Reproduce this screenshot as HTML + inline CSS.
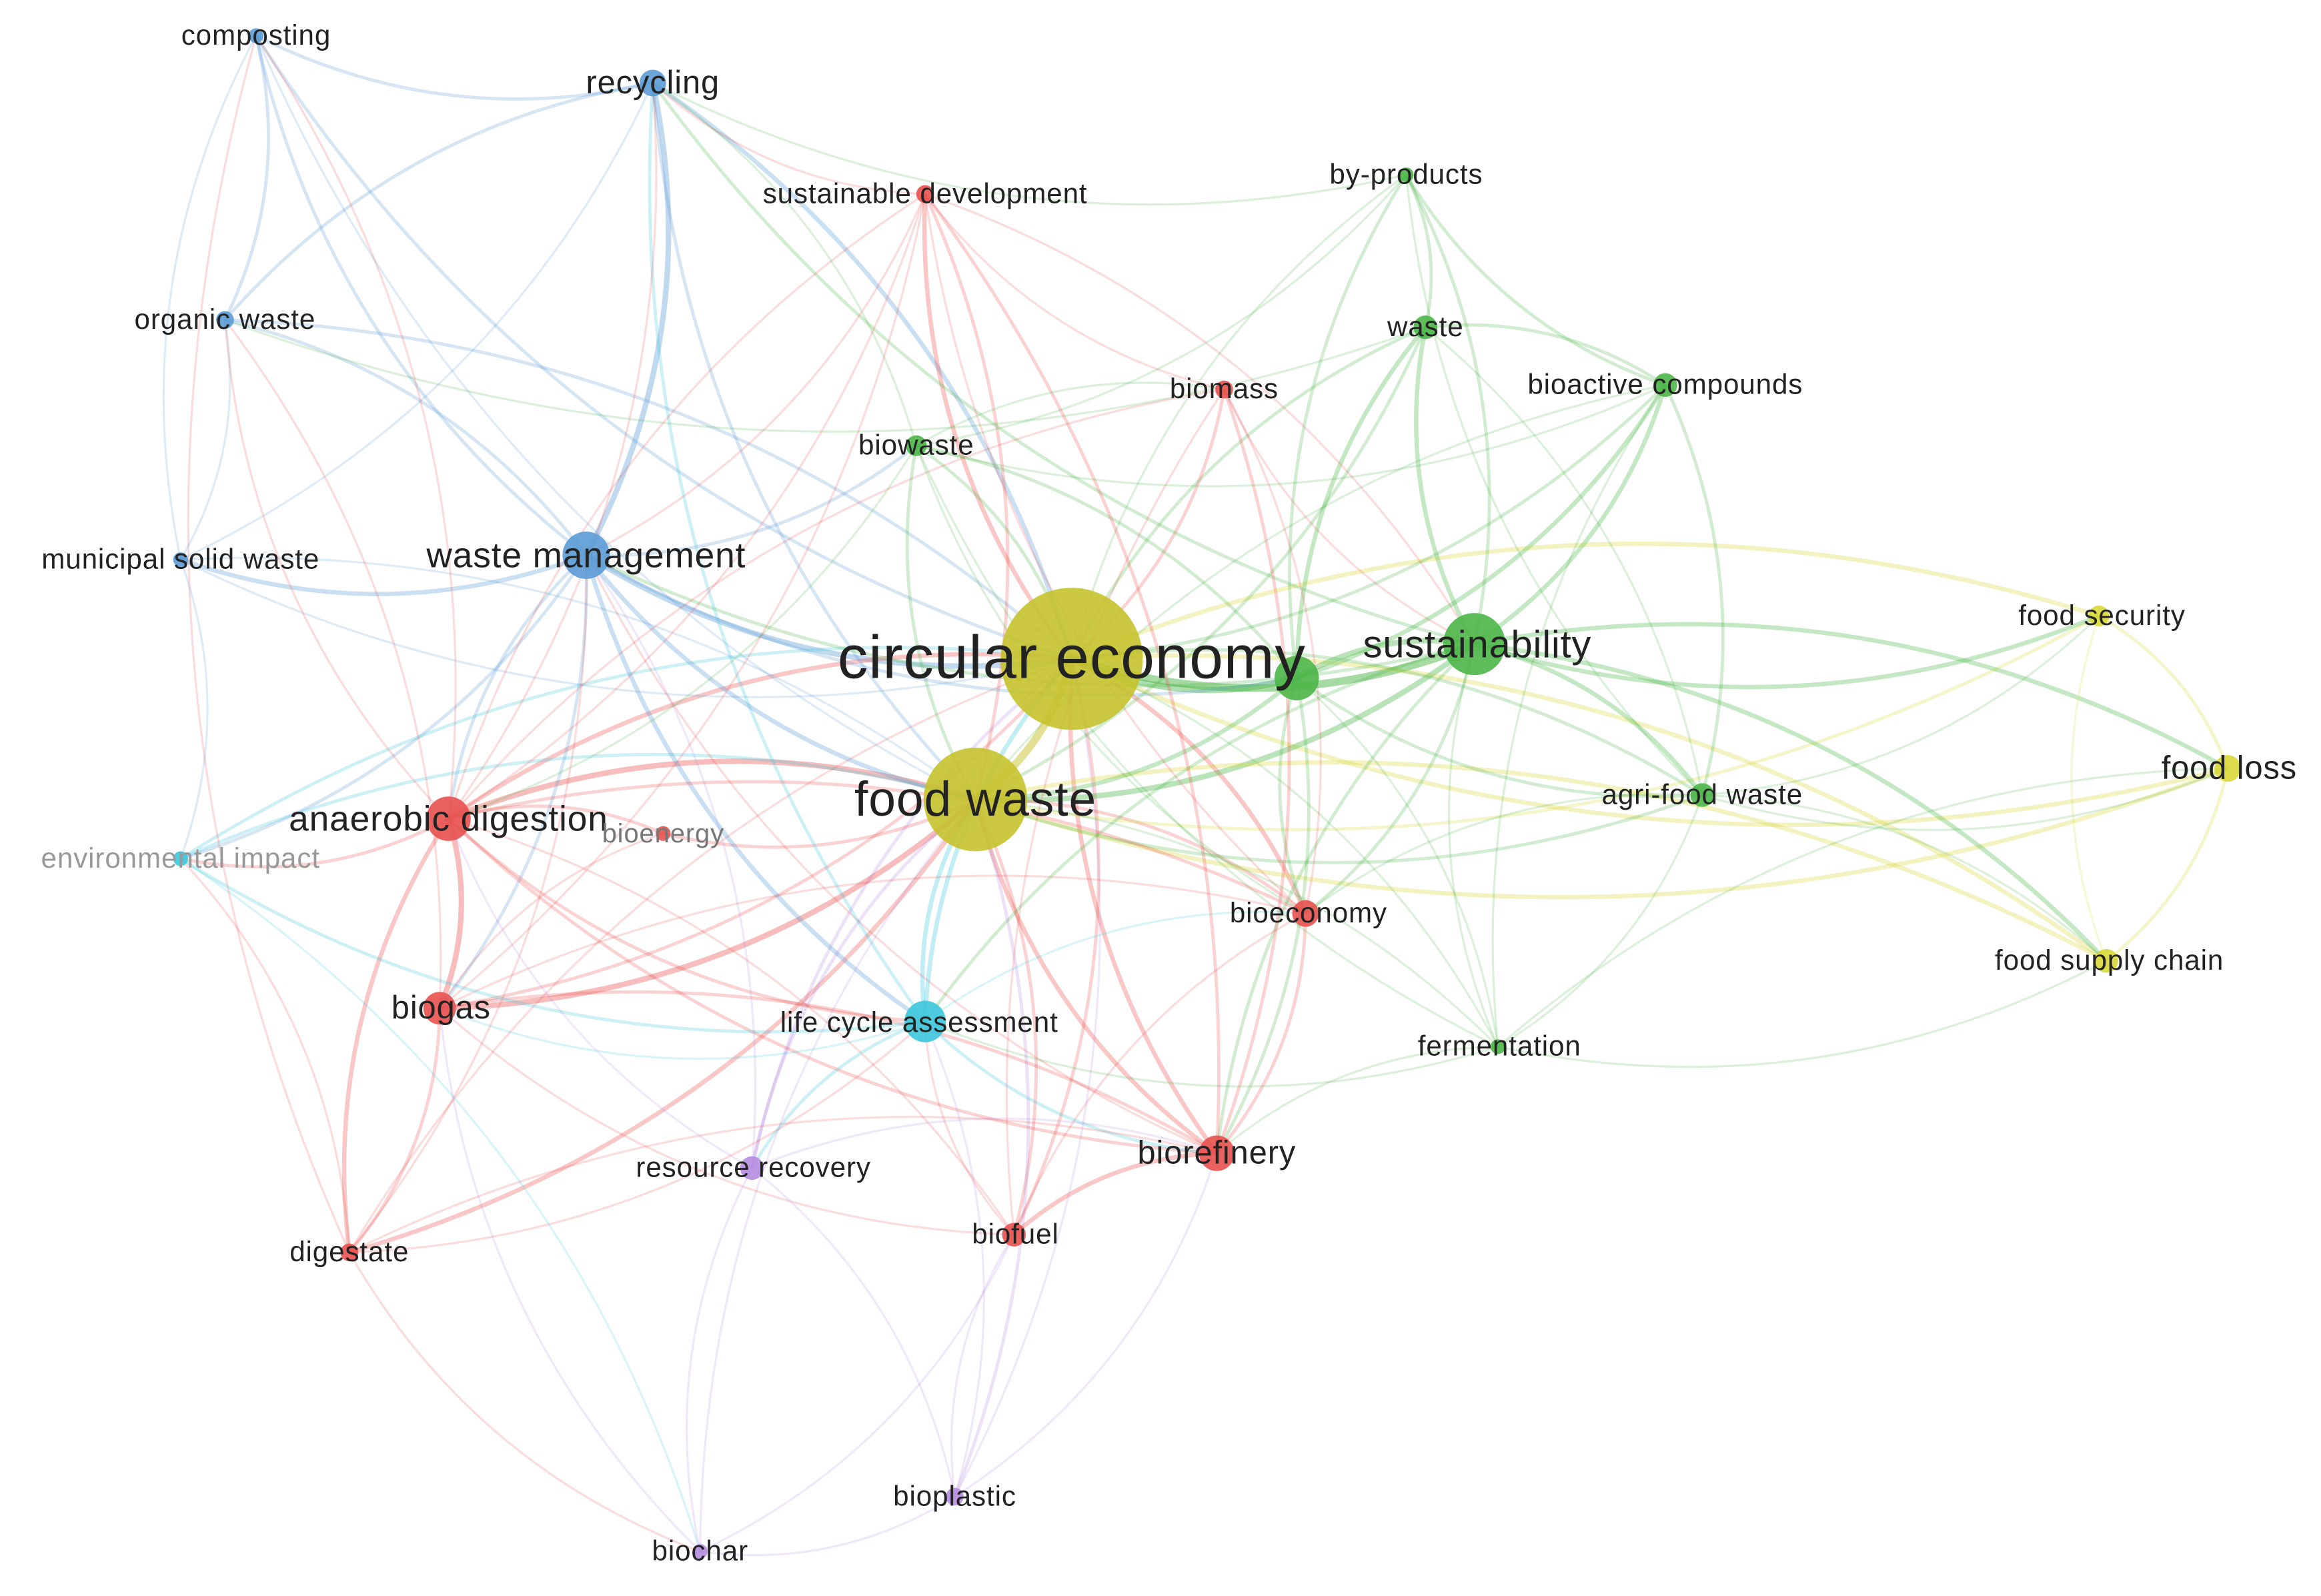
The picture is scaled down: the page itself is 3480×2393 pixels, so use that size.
<!DOCTYPE html>
<html><head><meta charset="utf-8">
<style>
html,body{margin:0;padding:0;background:#fff;}
svg{display:block;}
text{font-family:"Liberation Sans",sans-serif;fill:#222;letter-spacing:0.4px;}
</style></head>
<body>
<svg id="s" width="3480" height="2393" viewBox="0 0 1568 1078" xmlns="http://www.w3.org/2000/svg">
<g id="edges" fill="none"></g>
<g id="nodes"></g>
<g id="labels">
<text x="173" y="30" font-size="19" text-anchor="middle">composting</text>
<text x="441" y="63" font-size="22" text-anchor="middle">recycling</text>
<text x="625" y="137" font-size="19" text-anchor="middle">sustainable development</text>
<text x="950" y="124" font-size="19" text-anchor="middle">by-products</text>
<text x="152" y="222" font-size="19" text-anchor="middle">organic waste</text>
<text x="963" y="227" font-size="19" text-anchor="middle">waste</text>
<text x="827" y="269" font-size="19" text-anchor="middle">biomass</text>
<text x="1125" y="266" font-size="19" text-anchor="middle">bioactive compounds</text>
<text x="619" y="307" font-size="19" text-anchor="middle">biowaste</text>
<text x="122" y="384" font-size="19" text-anchor="middle">municipal solid waste</text>
<text x="396" y="383" font-size="24" text-anchor="middle">waste management</text>
<text x="724" y="458" font-size="41" text-anchor="middle">circular economy</text>
<text x="998" y="444" font-size="26" text-anchor="middle">sustainability</text>
<text x="1420" y="422" font-size="19" text-anchor="middle">food security</text>
<text x="1506" y="526" font-size="22" text-anchor="middle">food loss</text>
<text x="1150" y="543" font-size="19" text-anchor="middle">agri-food waste</text>
<text x="659" y="551" font-size="33" text-anchor="middle">food waste</text>
<text x="303" y="561" font-size="24" text-anchor="middle">anaerobic digestion</text>
<text x="448" y="569" font-size="18" text-anchor="middle" style="fill:#777">bioenergy</text>
<text x="122" y="586" font-size="19" text-anchor="middle" style="fill:#999">environmental impact</text>
<text x="884" y="623" font-size="19" text-anchor="middle">bioeconomy</text>
<text x="1425" y="655" font-size="19" text-anchor="middle">food supply chain</text>
<text x="298" y="688" font-size="22" text-anchor="middle">biogas</text>
<text x="621" y="697" font-size="19" text-anchor="middle">life cycle assessment</text>
<text x="1013" y="713" font-size="19" text-anchor="middle">fermentation</text>
<text x="822" y="786" font-size="22" text-anchor="middle">biorefinery</text>
<text x="509" y="795" font-size="19" text-anchor="middle">resource recovery</text>
<text x="686" y="840" font-size="19" text-anchor="middle">biofuel</text>
<text x="236" y="852" font-size="19" text-anchor="middle">digestate</text>
<text x="645" y="1017" font-size="19" text-anchor="middle">bioplastic</text>
<text x="473" y="1054" font-size="19" text-anchor="middle">biochar</text>
</g>
</svg>
<script>
var B="#5b9bd5",R="#e8514f",G="#4cb648",O="#c5c22c",Y="#d9d83a",C="#3dc6dc",P="#b58ddf";
var N={
comp:[173,24,5,B],rec:[441,56,9,B],sd:[625,131,6,R],byp:[950,118,5,G],ow:[152,216,6,B],
wst:[963,221,8,G],bm:[827,263,6,R],bac:[1125,260,8,G],bw:[619,301,7,G],msw:[122,378,5,B],
wm:[396,375,16,B],ce:[724,445,48,O],sus:[996,435,21,G],gx:[876,458,15,G],fs:[1418,416,7,Y],
fl:[1505,519,9,Y],afw:[1150,537,8,G],fw:[659,540,35,O],ad:[303,553,15,R],be:[448,563,5,R],
ei:[122,580,5,C],beco:[882,617,9,R],fsc:[1423,649,8,Y],bg:[297,681,11,R],lca:[625,690,14,C],
fer:[1012,707,5,G],bref:[822,779,12,R],rr:[508,789,8,P],bf:[685,834,8,R],dig:[236,846,6,R],
bp:[645,1011,6,P],bc:[473,1048,5,P]};
var E=[
["ce","fw",6],["ce","sus",6],["ce","wm",4],["ce","gx",5],["ce","fs",3],["ce","fl",3],["ce","fsc",3],["ce","ad",3],["ce","bg",2],["ce","lca",3],["ce","beco",3],["ce","bref",3],["ce","bf",2],["ce","rec",3],["ce","sd",3],["ce","bw",2],["ce","wst",2],["ce","bac",2],["ce","afw",2],["ce","bm",2],["ce","byp",1],["ce","ei",2],["ce","comp",2],["ce","ow",2],["ce","msw",1],["ce","rr",2],["ce","fer",1],["ce","dig",1],["ce","bp",1],
["fw","ad",4],["fw","bg",4],["fw","sus",4],["fw","wm",3],["fw","lca",3],["fw","beco",2],["fw","bref",3],["fw","bf",2],["fw","fl",3],["fw","fsc",3],["fw","fs",2],["fw","rec",2],["fw","sd",2],["fw","bw",2],["fw","wst",2],["fw","bac",1],["fw","afw",2],["fw","dig",3],["fw","rr",2],["fw","bp",2],["fw","bc",1],["fw","fer",1],["fw","ei",2],["fw","comp",1],["fw","gx",3],["fw","be",2],["fw","msw",1],
["sus","fl",3],["sus","fs",3],["sus","fsc",3],["sus","bac",3],["sus","wst",3],["sus","byp",2],["sus","afw",3],["sus","gx",4],["sus","beco",2],["sus","bref",2],["sus","wm",2],["sus","fer",1],["sus","bm",1],["sus","lca",2],["sus","rec",2],["sus","sd",1],
["gx","wst",3],["gx","bac",3],["gx","byp",2],["gx","afw",2],["gx","bref",2],["gx","beco",2],["gx","fer",1],["gx","bw",2],["gx","wm",2],
["wm","rec",4],["wm","comp",2],["wm","ow",2],["wm","msw",3],["wm","ad",2],["wm","bg",2],["wm","lca",3],["wm","ei",2],["wm","bw",2],["wm","rr",1],["wm","sd",1],["wm","dig",1],["wm","bref",1],
["rec","comp",2],["rec","ow",2],["rec","msw",1],["rec","lca",2],["rec","ad",1],["rec","sd",1],["rec","bw",1],["rec","byp",1],
["comp","ow",2],["comp","msw",1],["comp","ad",1],["comp","dig",1],["ow","msw",1],["ow","ad",1],["ow","bg",1],["ow","wst",1],
["ad","bg",4],["ad","dig",3],["ad","be",2],["ad","lca",2],["ad","beco",2],["ad","bref",2],["ad","bf",1],["ad","sd",1],["ad","ei",2],["ad","rr",1],["ad","bm",1],["ad","bw",1],
["bg","dig",2],["bg","bf",1],["bg","bref",2],["bg","lca",1],["bg","be",1],["bg","bc",1],["bg","beco",1],
["sd","bm",1],["sd","bref",2],["sd","beco",1],["sd","bg",1],["sd","ad",1],
["bm","bref",2],["bm","bf",1],["bm","beco",1],["bm","bw",1],
["beco","bref",2],["beco","bf",1],["beco","bw",1],["beco","lca",1],["beco","afw",1],
["bref","bf",3],["bref","lca",2],["bref","rr",1],["bref","fer",1],["bref","dig",1],["bref","bp",1],
["lca","rr",2],["lca","ei",2],["lca","bf",1],["lca","bp",1],["lca","fer",1],["lca","dig",1],
["rr","bc",1],["rr","bp",1],["bf","bp",1],["bf","bc",1],["bc","bp",1],["bc","dig",1],["bc","ei",1],
["bac","byp",2],["bac","wst",2],["bac","afw",2],["bac","fer",1],["bac","bw",1],["wst","byp",2],["wst","afw",1],["byp","afw",1],["byp","bw",1],
["fl","fs",2],["fl","fsc",2],["fs","fsc",1],["fl","afw",1],["fsc","afw",1],["fsc","fer",1],["fl","fer",1],["fs","afw",1],
["ei","msw",1],["ei","dig",1],["fer","afw",1],["fer","bw",1]
];
var ns="http://www.w3.org/2000/svg",eg=document.getElementById("edges"),ng=document.getElementById("nodes");
E.forEach(function(e,i){var a=N[e[0]],b=N[e[1]];if(!a||!b)return;
var dx=b[0]-a[0],dy=b[1]-a[1];
var k=0.18*((i%2)?1:-1);var mx=(a[0]+b[0])/2-dy*k,my=(a[1]+b[1])/2+dx*k;
var p=document.createElementNS(ns,"path");
p.setAttribute("d","M"+a[0]+","+a[1]+" Q"+mx+","+my+" "+b[0]+","+b[1]);
var c=(a[2]>=b[2]&&e[2]>1)?a[3]:b[3];if(a[3]==O&&b[3]!=O)c=b[3];
p.setAttribute("stroke",c);p.setAttribute("stroke-width",0.7+e[2]*0.75);
p.setAttribute("stroke-opacity",0.14+e[2]*0.06);eg.appendChild(p);});
for(var k in N){var n=N[k];var c=document.createElementNS(ns,"circle");
c.setAttribute("cx",n[0]);c.setAttribute("cy",n[1]);c.setAttribute("r",n[2]);
c.setAttribute("fill",n[3]);c.setAttribute("fill-opacity",0.9);ng.appendChild(c);}
</script>
</body></html>
